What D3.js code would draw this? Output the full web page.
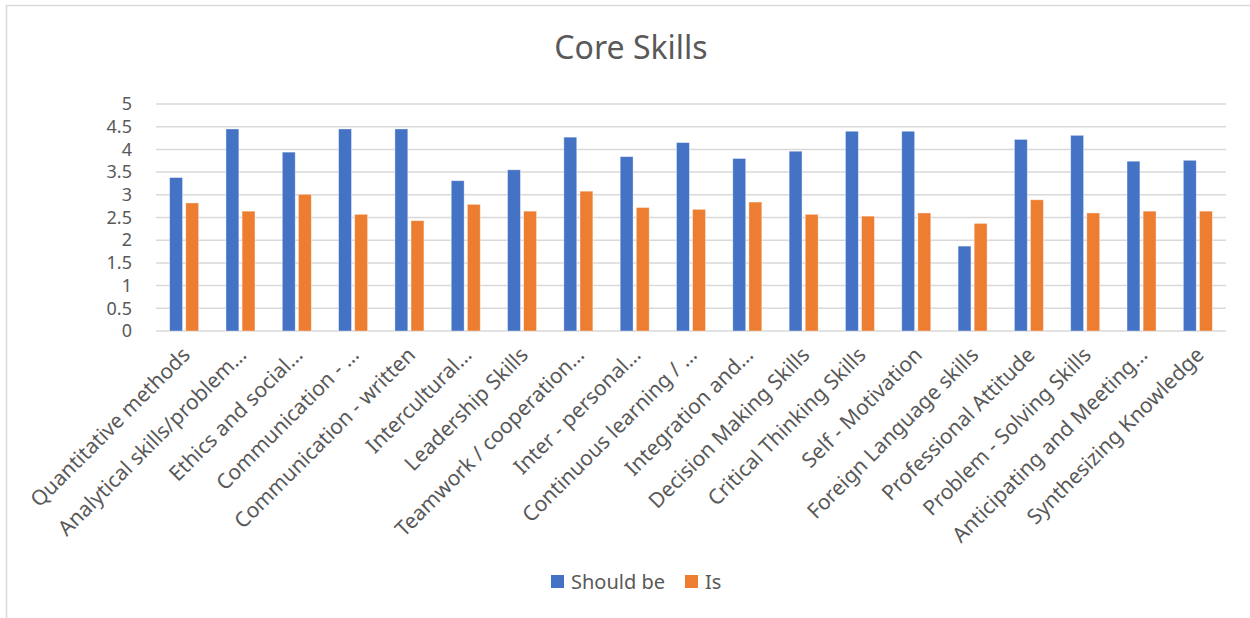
<!DOCTYPE html>
<html>
<head>
<meta charset="utf-8">
<script src="https://cdn.jsdelivr.net/npm/d3@7"></script>
<style>
	body { margin: 0; background: #fff; }
	svg text { font-family: "Noto Sans", "Open Sans", sans-serif; fill: #595959; }
</style>
</head>
<body>
<svg id="chart" width="1250" height="618"></svg>
<script>
// labels as shown on the axis (Excel truncates the long ones)
var categories = [
	"Quantitative methods", "Analytical skills/problem…", "Ethics and social…",
	"Communication - …", "Communication - written", "Intercultural…",
	"Leadership Skills", "Teamwork / cooperation…", "Inter - personal…",
	"Continuous learning / …", "Integration and…", "Decision Making Skills",
	"Critical Thinking Skills", "Self - Motivation", "Foreign Language skills",
	"Professional Attitude", "Problem - Solving Skills", "Anticipating and Meeting…",
	"Synthesizing Knowledge"
];
var seriesNames = ["Should be", "Is"];
var shouldBe = [3.38, 4.45, 3.94, 4.45, 4.45, 3.31, 3.55, 4.27, 3.84, 4.15, 3.80, 3.96, 4.40, 4.40, 1.87, 4.22, 4.31, 3.74, 3.76];
var isValues = [2.82, 2.64, 3.01, 2.57, 2.43, 2.79, 2.64, 3.08, 2.72, 2.68, 2.84, 2.57, 2.53, 2.60, 2.37, 2.89, 2.60, 2.64, 2.64];
var yTicks = [0, 0.5, 1, 1.5, 2, 2.5, 3, 3.5, 4, 4.5, 5];

var colors = { "Should be": "#4472C4", "Is": "#ED7D31" };

var svg = d3.select("#chart");

// outer chart border (only top and left are visible in the picture)
svg.append("rect")
	.attr("x", 6.5).attr("y", 5.5)
	.attr("width", 1300).attr("height", 700)
	.attr("fill", "none")
	.attr("stroke", "#d9d9d9")
	.attr("stroke-width", 1.5);

var plot = { left: 156, right: 1226, top: 104, bottom: 331 };

var x0 = d3.scaleBand()
	.domain(categories)
	.range([plot.left, plot.right]);

var groupWidth = 29;
var x1 = d3.scaleBand()
	.domain(seriesNames)
	.range([0, groupWidth])
	.paddingInner(0.2);

var y = d3.scaleLinear()
	.domain([0, 5])
	.range([plot.bottom, plot.top]);

// title
svg.append("text")
	.attr("x", 631).attr("y", 59)
	.attr("text-anchor", "middle")
	.style("font-size", "32px")
	.text("Core Skills");

// gridlines
svg.append("g").selectAll("line")
	.data(yTicks)
	.enter().append("line")
	.attr("x1", plot.left).attr("x2", plot.right)
	.attr("y1", function(d) { return y(d); })
	.attr("y2", function(d) { return y(d); })
	.attr("stroke", "#d9d9d9")
	.attr("stroke-width", 1.5);

// y axis labels
var yAxis = d3.axisLeft(y)
	.tickValues(yTicks)
	.tickSize(0)
	.tickPadding(0)
	.tickFormat(function(d) { return String(d); });
var yg = svg.append("g")
	.attr("transform", "translate(" + (plot.left - 24) + ",0)")
	.call(yAxis);
yg.select(".domain").remove();
yg.selectAll("text")
	.style("font-size", "18px")
	.attr("fill", "#595959");

// bars
var rows = categories.map(function(c, i) {
	return { cat: c, values: [ { key: "Should be", value: shouldBe[i] }, { key: "Is", value: isValues[i] } ] };
});
var offset = (x0.bandwidth() - groupWidth) / 2;

var groups = svg.append("g").selectAll("g")
	.data(rows)
	.enter().append("g")
	.attr("transform", function(d) { return "translate(" + (x0(d.cat) + offset) + ",0)"; });

groups.selectAll("rect")
	.data(function(d) { return d.values; })
	.enter().append("rect")
	.attr("x", function(d) { return x1(d.key); })
	.attr("y", function(d) { return y(d.value); })
	.attr("width", x1.bandwidth())
	.attr("height", function(d) { return y(0) - y(d.value); })
	.attr("fill", function(d) { return colors[d.key]; })
	.attr("stroke", "#ffffff")
	.attr("stroke-opacity", 0.5)
	.attr("stroke-width", 0.75);

// category labels, rotated
var xAxis = d3.axisBottom(x0).tickSize(0).tickPadding(0);
var xg = svg.append("g")
	.attr("transform", "translate(0," + plot.bottom + ")")
	.call(xAxis);
xg.select(".domain").remove();
xg.selectAll(".tick text")
	.attr("text-anchor", "end")
	.attr("fill", "#595959")
	.style("font-size", "21px")
	.attr("dy", "0.35em")
	.attr("transform", "translate(2,20) rotate(-45)");

// legend
var legend = svg.append("g").attr("transform", "translate(551,575)");
var item = legend.selectAll("g")
	.data(seriesNames)
	.enter().append("g")
	.attr("transform", function(d, i) { return "translate(" + (i * 134) + ",0)"; });
item.append("rect")
	.attr("width", 13).attr("height", 13)
	.attr("fill", function(d) { return colors[d]; });
item.append("text")
	.attr("x", 20).attr("y", 6.5)
	.attr("dy", "0.35em")
	.style("font-size", "20px")
	.text(function(d) { return d; });
</script>
</body>
</html>
